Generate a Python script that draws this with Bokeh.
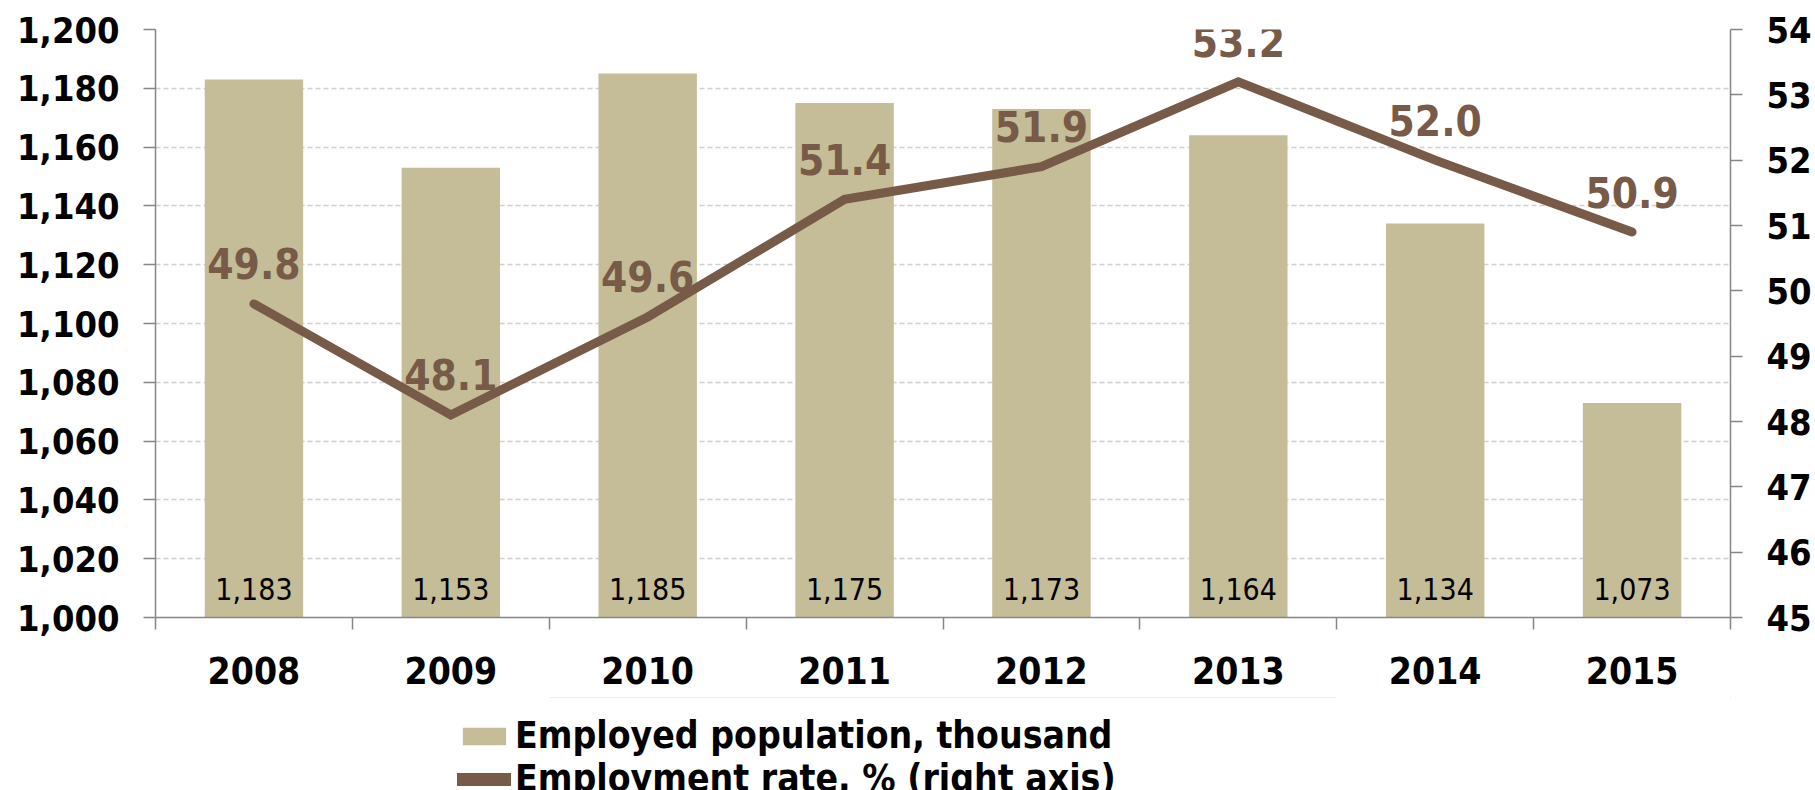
from bokeh.plotting import figure
from bokeh.layouts import column
from bokeh.models import (Range1d, LinearAxis, FixedTicker, NumeralTickFormatter,
                          Legend, LegendItem, ColumnDataSource)
from bokeh.core.properties import value
from bokeh.embed import file_html
from bokeh.resources import INLINE

years = ["2008", "2009", "2010", "2011", "2012", "2013", "2014", "2015"]
employed = [1183, 1153, 1185, 1175, 1173, 1164, 1134, 1073]
rate = [49.8, 48.1, 49.6, 51.4, 51.9, 53.2, 52.0, 50.9]
left_ticks = [1000, 1020, 1040, 1060, 1080, 1100, 1120, 1140, 1160, 1180, 1200]
right_ticks = [45, 46, 47, 48, 49, 50, 51, 52, 53, 54]
series_names = ["Employed population, thousand", "Employment rate, % (right axis)"]

FONT = "DejaVu Sans Condensed"
BAR = "#C4BD97"
LINE = "#775A47"
AXIS = "#868686"

xs = [i + 0.5 for i in range(len(years))]
src = ColumnDataSource(dict(
    x=xs, emp=employed, rate=rate,
    emp_lbl=[f"{v:,}" for v in employed],
    rate_lbl=[f"{v:.1f}" for v in rate],
    base=[left_ticks[0]] * len(years),
))

p = figure(frame_width=1575, frame_height=588, output_backend="svg", toolbar_location=None,
           x_range=Range1d(0, len(years)), y_range=Range1d(left_ticks[0], left_ticks[-1]),
           min_border_left=155, min_border_right=85, min_border_top=29, min_border_bottom=80)
p.outline_line_color = None
p.background_fill_color = "white"
p.border_fill_color = "white"

p.extra_y_ranges = {"rate": Range1d(right_ticks[0], right_ticks[-1])}

bars = p.vbar(x="x", top="emp", bottom=left_ticks[0], width=0.5, source=src,
              fill_color=BAR, line_color=None)
line = p.line(x="x", y="rate", source=src, y_range_name="rate",
              line_color=LINE, line_width=9, line_join="miter", line_cap="round")

p.text(x="x", y="base", text="emp_lbl", source=src, text_align="center",
       text_baseline="middle", y_offset=-29, text_font=value(FONT),
       text_font_size="30px", text_color="black")
p.text(x="x", y="rate", text="rate_lbl", source=src, y_range_name="rate",
       text_align="center", text_baseline="middle", y_offset=-40,
       text_font=value(FONT), text_font_style="bold", text_font_size="42px",
       text_color=LINE)

# x axis
xa = p.xaxis[0]
xa.ticker = FixedTicker(ticks=xs, minor_ticks=list(range(len(years) + 1)))
xa.major_label_overrides = {x: y for x, y in zip(xs, years)}
xa.major_tick_out = 0
xa.major_tick_in = 0
xa.minor_tick_out = 12
xa.minor_tick_in = 0
xa.minor_tick_line_color = AXIS
xa.minor_tick_line_width = 1.5
xa.axis_line_color = AXIS
xa.axis_line_width = 1.5
xa.major_label_standoff = 27
xa.major_label_text_font = FONT
xa.major_label_text_font_style = "bold"
xa.major_label_text_font_size = "37px"
xa.major_label_text_color = "black"

# left axis
ya = p.yaxis[0]
ya.ticker = FixedTicker(ticks=left_ticks)
ya.formatter = NumeralTickFormatter(format="0,0")
ya.major_tick_out = 12
ya.major_tick_in = 0
ya.minor_tick_line_color = None
ya.major_tick_line_color = AXIS
ya.major_tick_line_width = 1.5
ya.axis_line_color = AXIS
ya.axis_line_width = 1.5
ya.major_label_standoff = 24
ya.major_label_text_font = FONT
ya.major_label_text_font_style = "bold"
ya.major_label_text_font_size = "36px"
ya.major_label_text_color = "black"

# right axis
ra = LinearAxis(y_range_name="rate", ticker=FixedTicker(ticks=right_ticks))
ra.major_tick_out = 12
ra.major_tick_in = 0
ra.minor_tick_line_color = None
ra.major_tick_line_color = AXIS
ra.major_tick_line_width = 1.5
ra.axis_line_color = AXIS
ra.axis_line_width = 1.5
ra.major_label_standoff = 24
ra.major_label_text_font = FONT
ra.major_label_text_font_style = "bold"
ra.major_label_text_font_size = "36px"
ra.major_label_text_color = "black"
p.add_layout(ra, "right")

p.xgrid.grid_line_color = None
p.ygrid.ticker = FixedTicker(ticks=left_ticks[1:])
p.ygrid.grid_line_color = "#D0D0D0"
p.ygrid.grid_line_dash = "5 3"
p.ygrid.grid_line_width = 1.5

# legend strip below the chart; swatch renderers lie outside its (0..1) ranges
lp = figure(width=1815, height=93, output_backend="svg", toolbar_location=None,
            x_range=Range1d(0, 1), y_range=Range1d(0, 1),
            x_axis_location=None, y_axis_location=None, min_border=0)
lp.outline_line_color = None
lp.grid.grid_line_color = None
lp.border_fill_color = None
lp.background_fill_color = None
bar_proxy = lp.vbar(x="x", top="emp", bottom=left_ticks[0], width=0.5, source=src,
                    fill_color=BAR, line_color=None)
line_proxy = lp.line(x="x", y="rate", source=src, line_color=LINE, line_width=13,
                     line_cap="round")

legend = Legend(items=[
    LegendItem(label=series_names[0], renderers=[bar_proxy]),
    LegendItem(label=series_names[1], renderers=[line_proxy]),
], location=(302, -10), orientation="vertical")
legend.background_fill_alpha = 0
legend.border_line_color = None
legend.padding = 0
legend.margin = 0
legend.spacing = 0
legend.glyph_width = 54
legend.glyph_height = 22
legend.label_standoff = 4
legend.label_text_font = FONT
legend.label_text_font_style = "bold"
legend.label_text_font_size = "37px"
legend.label_text_color = "black"
lp.add_layout(legend, "center")

layout = column(p, lp, spacing=0)
open("out.html", "w").write(file_html(layout, INLINE))
